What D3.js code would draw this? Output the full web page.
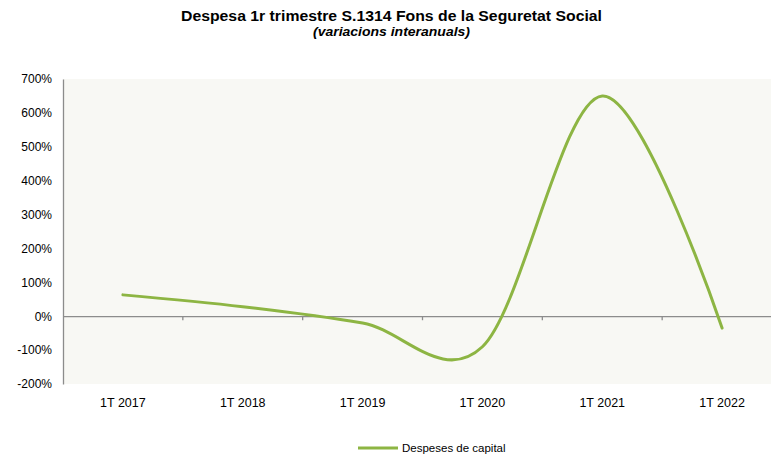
<!DOCTYPE html>
<html>
<head>
<meta charset="utf-8">
<script src="https://cdn.jsdelivr.net/npm/d3@7"></script>
<style>
  html, body { margin: 0; padding: 0; background: #ffffff; }
  svg { display: block; font-family: "Liberation Sans", Arial, sans-serif; }
</style>
</head>
<body>
<svg id="chart" width="771" height="456"></svg>
<script>
const categories = ["1T 2017", "1T 2018", "1T 2019", "1T 2020", "1T 2021", "1T 2022"];
const values = [63, 28, -20, -90, 650, -35];
const yTicks = [-200, -100, 0, 100, 200, 300, 400, 500, 600, 700];
const seriesName = "Despeses de capital";
const titleText = "Despesa 1r trimestre S.1314 Fons de la Seguretat Social";
const subtitleText = "(variacions interanuals)";

const svg = d3.select("#chart");
const plot = { left: 63, right: 782, top: 79, bottom: 384 };

const x = d3.scaleBand().domain(categories).range([plot.left, plot.right]).padding(0);
const y = d3.scaleLinear().domain([-200, 700]).range([plot.bottom, plot.top]);

// plot background
svg.append("rect")
  .attr("x", plot.left).attr("y", plot.top)
  .attr("width", 771 - plot.left).attr("height", plot.bottom - plot.top)
  .attr("fill", "#f8f8f4");

// title
svg.append("text").attr("x", 391.5).attr("y", 21)
  .attr("text-anchor", "middle").attr("font-weight", "bold").attr("font-size", 14.5)
  .attr("fill", "#000").attr("textLength", 421).attr("lengthAdjust", "spacingAndGlyphs")
  .text(titleText);
svg.append("text").attr("x", 391.5).attr("y", 36)
  .attr("text-anchor", "middle").attr("font-weight", "bold").attr("font-style", "italic")
  .attr("font-size", 12.5).attr("fill", "#000")
  .attr("textLength", 157).attr("lengthAdjust", "spacingAndGlyphs")
  .text(subtitleText);

// y axis
const yAxis = d3.axisLeft(y).tickValues(yTicks).tickSize(0).tickPadding(11)
  .tickFormat(d => d + "%");
const gy = svg.append("g").attr("transform", `translate(${plot.left},0)`).call(yAxis);
gy.select(".domain").attr("stroke", "#8c8c8c").attr("stroke-width", 1.3);
gy.selectAll("text").attr("font-size", 12).attr("fill", "#000")
  .attr("font-family", "Liberation Sans, Arial, sans-serif");

// x axis at zero
const xAxis = d3.axisBottom(x).tickSize(0).tickFormat("");
const gx = svg.append("g").attr("transform", `translate(0,${y(0)})`).call(xAxis);
gx.select(".domain").attr("stroke", "#8c8c8c").attr("stroke-width", 1.3);
gx.selectAll(".tick").remove();
// boundary tick marks
gx.selectAll("line.bt").data(categories.slice(1))
  .enter().append("line").attr("class", "bt")
  .attr("x1", d => x(d)).attr("x2", d => x(d))
  .attr("y1", 0).attr("y2", 4)
  .attr("stroke", "#8c8c8c").attr("stroke-width", 1.3);

// category labels at bottom
svg.append("g").selectAll("text").data(categories).enter().append("text")
  .attr("x", d => x(d) + x.bandwidth() / 2)
  .attr("y", 407)
  .attr("text-anchor", "middle").attr("font-size", 12.5).attr("fill", "#000")
  .text(d => d);

// line
const line = d3.line()
  .x((d, i) => x(categories[i]) + x.bandwidth() / 2)
  .y(d => y(d))
  .curve(d3.curveCardinal.tension(0));
svg.append("path").datum(values)
  .attr("d", line).attr("fill", "none")
  .attr("stroke", "#8db543").attr("stroke-width", 3)
  .attr("stroke-linecap", "round");

// legend
svg.append("line").attr("x1", 358).attr("x2", 398).attr("y1", 448).attr("y2", 448)
  .attr("stroke", "#8db543").attr("stroke-width", 3);
svg.append("text").attr("x", 402).attr("y", 452)
  .attr("font-size", 11.5).attr("fill", "#000").text(seriesName);
</script>
</body>
</html>
